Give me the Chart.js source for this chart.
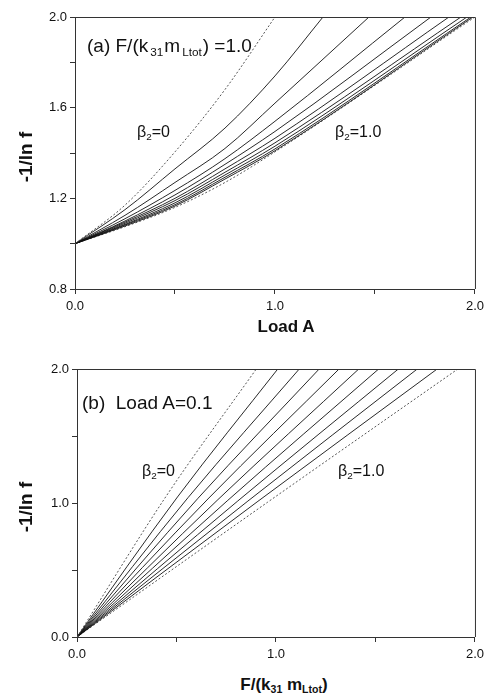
<!DOCTYPE html>
<html>
<head>
<meta charset="utf-8">
<script src="https://cdn.jsdelivr.net/npm/chart.js@4/dist/chart.umd.min.js"></script>
<style>
  html, body { margin:0; padding:0; background:#fff; }
  body { width:489px; height:693px; position:relative; overflow:hidden;
         font-family:"Liberation Sans", Arial, sans-serif; color:#111; }
  canvas { position:absolute; left:0; }
  .t { position:absolute; white-space:nowrap; line-height:1; }
  .t sub { font-size:0.62em; vertical-align:-0.3em; line-height:0; }
  .ann { font-size:19px; }
  .ann sub { margin-left:2px; margin-right:1px; }
  .beta { font-size:16px; }
  .ttl { font-weight:bold; font-size:17px; }
  .ytl { font-weight:bold; font-size:19px; }
  .rot { transform-origin:center center; transform:translate(-50%,-50%) rotate(-90deg); }
</style>
</head>
<body>
<canvas id="ca" width="489" height="320" style="top:0px"></canvas>
<canvas id="cb" width="489" height="340" style="top:330px"></canvas>

<div class="t ann" style="left:87px; top:36px;">(a) F/(k<sub>31</sub>m<sub>Ltot</sub>) =1.0</div>
<div class="t beta" style="left:137px; top:124px;">β<sub>2</sub>=0</div>
<div class="t beta" style="left:335px; top:124px;">β<sub>2</sub>=1.0</div>
<div class="t ytl rot" style="left:25px; top:157px;">-1/ln f</div>
<div class="t ttl" style="left:286px; top:318px; transform:translateX(-50%);">Load A</div>

<div class="t ann" style="left:82px; top:393px;">(b)&nbsp; Load A=0.1</div>
<div class="t beta" style="left:142px; top:463px;">β<sub>2</sub>=0</div>
<div class="t beta" style="left:338px; top:463px;">β<sub>2</sub>=1.0</div>
<div class="t ytl rot" style="left:25px; top:507px;">-1/ln f</div>
<div class="t ttl" style="left:284px; top:676px; transform:translateX(-50%);">F/(k<sub>31</sub> m<sub>Ltot</sub>)</div>

<script>
// ---------- DATA ----------
const betaValues = ['0','0.1','0.2','0.3','0.4','0.5','0.6','0.7','0.8','0.9','1.0'];

// Panel (a): -1/ln f versus Load A, F/(k31 mLtot) = 1.0
const aLoad = [0, 0.25, 0.5, 0.75, 1.0];
const aY_b00 = [1.0, 1.17, 1.405, 1.68, 2.0];
const aY_b01 = [1.0, 1.15, 1.33, 1.51, 1.74];
const aY_b02 = [1.0, 1.125, 1.27, 1.42, 1.62];
const aY_b03 = [1.0, 1.11, 1.235, 1.375, 1.54];
const aY_b04 = [1.0, 1.10, 1.215, 1.35, 1.495];
const aY_b05 = [1.0, 1.095, 1.20, 1.33, 1.465];
const aY_b06 = [1.0, 1.09, 1.19, 1.315, 1.445];
const aY_b07 = [1.0, 1.085, 1.18, 1.303, 1.43];
const aY_b08 = [1.0, 1.082, 1.172, 1.293, 1.418];
const aY_b09 = [1.0, 1.078, 1.166, 1.285, 1.41];
const aY_b10 = [1.0, 1.075, 1.16, 1.27, 1.405];
// Load A at which each curve reaches -1/ln f = 2.0
const aExitLoad = [1.0, 1.24, 1.47, 1.65, 1.78, 1.87, 1.93, 1.96, 1.98, 1.99, 2.0];
const aExitY = 2.0;
const aXTickLabels = ['0.0','1.0','2.0'];
const aYTickLabels = ['0.8','1.2','1.6','2.0'];

// Panel (b): -1/ln f versus F/(k31 mLtot), Load A = 0.1
const bMidF = [0.45, 0.505, 0.558, 0.608, 0.658, 0.708, 0.758, 0.808, 0.855, 0.905, 0.957];
const bMidY = [1.055, 1.045, 1.04, 1.035, 1.03, 1.025, 1.02, 1.015, 1.01, 1.008, 1.005];
const bExitF = [0.901, 1.009, 1.117, 1.217, 1.317, 1.416, 1.516, 1.615, 1.71, 1.81, 1.914];
const bExitY = 2.0;
const bXTickLabels = ['0.0','1.0','2.0'];
const bYTickLabels = ['0.0','1.0','2.0'];

// ---------- BUILD ----------
const aSeries = [aY_b00,aY_b01,aY_b02,aY_b03,aY_b04,aY_b05,aY_b06,aY_b07,aY_b08,aY_b09,aY_b10];
const FONT = "'Liberation Sans', Arial, sans-serif";
const AX = '#333';

function styleFor(i, n) {
  const dashed = (i === 0 || i === n - 1);
  return {
    borderColor: dashed ? '#555' : '#111',
    borderWidth: dashed ? 1 : 0.9,
    borderDash: dashed ? [2, 2] : [],
    pointRadius: 0,
    fill: false,
    cubicInterpolationMode: 'monotone',
    showLine: true
  };
}

const aDatasets = aSeries.map((ys, i) => {
  const pts = aLoad.map((x, k) => ({x: x, y: ys[k]}));
  if (aExitLoad[i] > aLoad[aLoad.length - 1]) pts.push({x: aExitLoad[i], y: aExitY});
  return Object.assign({label: 'β2=' + betaValues[i], data: pts}, styleFor(i, aSeries.length));
});

const bDatasets = betaValues.map((b, i) => {
  const pts = [{x: 0, y: 0}, {x: bMidF[i], y: bMidY[i]}, {x: bExitF[i], y: bExitY}];
  return Object.assign({label: 'β2=' + b, data: pts}, styleFor(i, betaValues.length));
});

const framePlugin = {
  id: 'frame',
  afterDraw(chart) {
    const {ctx, chartArea: a} = chart;
    ctx.save();
    ctx.strokeStyle = AX;
    ctx.lineWidth = 1;
    ctx.beginPath();
    ctx.moveTo(a.left, a.top + 0.5);
    ctx.lineTo(a.right + 0.5, a.top + 0.5);
    ctx.lineTo(a.right + 0.5, a.bottom);
    ctx.stroke();
    ctx.restore();
  }
};

function makeScales(xMin, xMax, xStep, xLabels, yMin, yMax, yStep, yLabels, yWidth, xHeight) {
  const tickFont = {family: FONT, size: 13};
  const grid = {display: true, drawOnChartArea: false, drawTicks: true, tickLength: 5, color: AX, lineWidth: 1};
  return {
    x: {
      type: 'linear', min: xMin, max: xMax,
      grid: grid, border: {display: true, color: AX, width: 1},
      ticks: {stepSize: xStep, autoSkip: false, maxRotation: 0, color: '#111', font: tickFont, padding: 5,
        callback: v => { const s = Number(v).toFixed(1); return xLabels.includes(s) ? s : ''; }},
      afterFit: s => { s.height = xHeight; }
    },
    y: {
      type: 'linear', min: yMin, max: yMax,
      grid: grid, border: {display: true, color: AX, width: 1},
      ticks: {stepSize: yStep, autoSkip: false, color: '#111', font: tickFont, padding: 3,
        callback: v => { const s = Number(v).toFixed(1); return yLabels.includes(s) ? s : ''; }},
      afterFit: s => { s.width = yWidth; }
    }
  };
}

const common = {
  responsive: false,
  animation: false,
  events: [],
  plugins: {legend: {display: false}, tooltip: {enabled: false}, title: {display: false}},
};

new Chart(document.getElementById('ca'), {
  type: 'scatter',
  data: {datasets: aDatasets},
  options: Object.assign({}, common, {
    layout: {padding: {top: 17, right: 11, left: 0, bottom: 0}},
    scales: makeScales(0, 2, 0.5, aXTickLabels, 0.8, 2.0, 0.2, aYTickLabels, 75, 31)
  }),
  plugins: [framePlugin]
});

new Chart(document.getElementById('cb'), {
  type: 'scatter',
  data: {datasets: bDatasets},
  options: Object.assign({}, common, {
    layout: {padding: {top: 39, right: 10, left: 0, bottom: 0}},
    scales: makeScales(0, 2, 0.5, bXTickLabels, 0, 2.0, 0.5, bYTickLabels, 77, 33)
  }),
  plugins: [framePlugin]
});
</script>
</body>
</html>
